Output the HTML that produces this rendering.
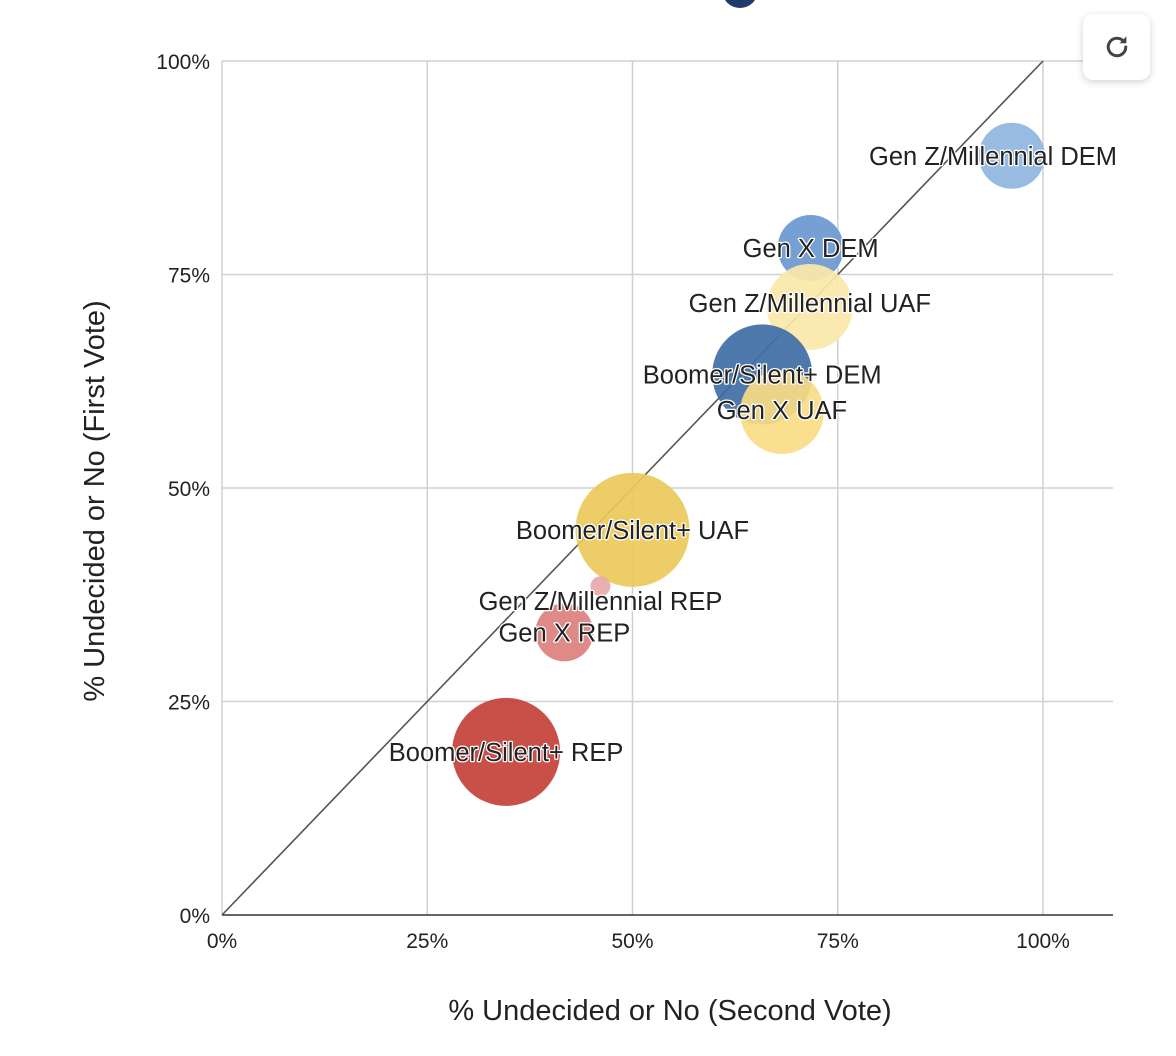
<!DOCTYPE html>
<html><head><meta charset="utf-8"><style>
body{margin:0;width:1176px;height:1056px;background:#fff;overflow:hidden;font-family:"Liberation Sans",sans-serif;position:relative}
svg{position:absolute;left:0;top:0}
.btn{position:absolute;left:1083px;top:14px;width:67px;height:66px;background:#fff;border-radius:10px;box-shadow:0 2px 8px rgba(0,0,0,0.18);display:flex;align-items:center;justify-content:center}
</style></head><body>
<svg id="chart" width="1176" height="1056">
<circle cx="740" cy="-10" r="18" fill="#1f3a6b"/>
</svg>
<div class="btn">
<svg width="30" height="30" viewBox="0 0 24 24" style="position:static"><path d="M19 12a7 7 0 1 1-2.05-4.95" fill="none" stroke="#444" stroke-width="2.4" stroke-linecap="round"/><path d="M19.5 3.5v5.5h-5.5z" fill="#444"/></svg>
</div>
<script>
const labels=["Gen Z/Millennial DEM","Gen X DEM","Gen Z/Millennial UAF","Boomer/Silent+ DEM","Gen X UAF","Boomer/Silent+ UAF","Gen Z/Millennial REP","Gen X REP","Boomer/Silent+ REP"];
const secondVote=[96.2,71.7,71.6,65.8,68.2,50.0,46.1,41.7,34.6];
const firstVote=[88.9,78.1,71.2,63.3,58.9,45.1,38.5,33.1,19.1];
const sizes=[10.9,10.9,18.5,25,17.6,32.5,1.0,8.4,29.2];
const colors=["#8fb5de","#6a98cf","#fbe8a8","#3f6ea6","#f8dc84","#ebc95a","#e8a9a9","#dc807d","#c4403a"];
const xTicks=[0,25,50,75,100];
const yTicks=[0,25,50,75,100];
const NS="http://www.w3.org/2000/svg";
const svg=document.getElementById('chart');
const L=222,R=1043,T=61,B=915,RE=1113;
const xs=v=>L+(R-L)*v/100;
const ys=v=>B-(B-T)*v/100;
const rs=s=>10*Math.sqrt(s);
function mk(t,a){const e=document.createElementNS(NS,t);for(const k in a)e.setAttribute(k,a[k]);svg.appendChild(e);return e;}
xTicks.forEach(v=>{
  const g=mk('line',{x1:xs(v),x2:xs(v),y1:T,y2:B,stroke:'#d0d0d0','stroke-width':1.5});
  
  
  const t=mk('text',{x:xs(v),y:948,'text-anchor':'middle','font-size':21,fill:'#222'});
  t.textContent=v+'%';
  
  
});
yTicks.forEach(v=>{
  const g=mk('line',{x1:L,x2:RE,y1:ys(v),y2:ys(v),stroke:v===0?'#333':'#d0d0d0','stroke-width':1.5});
  
  
  const t=mk('text',{x:210,y:ys(v)+8,'text-anchor':'end','font-size':21,fill:'#222'});
  t.textContent=v+'%';
  
  
});
const d=mk('line',{x1:xs(0),y1:ys(0),x2:xs(100),y2:ys(100),stroke:'#555','stroke-width':1.6});


labels.forEach((n,i)=>{
  const c=mk('circle',{cx:xs(secondVote[i]),cy:ys(firstVote[i]),r:rs(sizes[i]),fill:colors[i],'fill-opacity':0.92});
  
  
});
const lblDy=[0,0,-4,0,-2,0,15,0,0];
labels.forEach((n,i)=>{
  let cx=xs(secondVote[i]);
  const t=mk('text',{x:cx,y:ys(firstVote[i])+lblDy[i]+9,'text-anchor':'middle','font-size':25.5,fill:'#222',stroke:'#fff','stroke-width':2.5,'paint-order':'stroke','stroke-linejoin':'round'});
  t.textContent=n;
  
  
  const w=t.getComputedTextLength();
  if(cx+w/2>1117){t.setAttribute('x',1117-w/2);}
});
const xt=mk('text',{x:670,y:1020,'text-anchor':'middle','font-size':29,fill:'#222'});
xt.textContent='% Undecided or No (Second Vote)';


const yt=mk('text',{x:0,y:0,'text-anchor':'middle','font-size':29,fill:'#222',transform:'translate(104,501) rotate(-90)'});
yt.textContent='% Undecided or No (First Vote)';


</script>
</body></html>
